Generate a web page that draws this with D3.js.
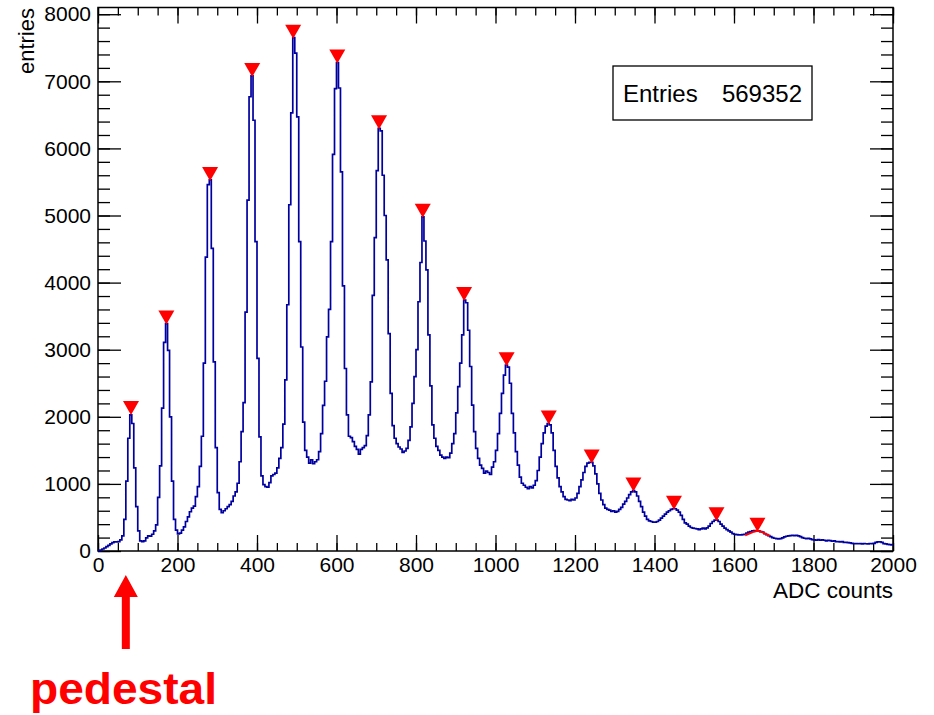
<!DOCTYPE html>
<html>
<head>
<meta charset="utf-8">
<script src="https://cdn.jsdelivr.net/npm/d3@7"></script>
<style>
body { margin: 0; background: #fff; }
text { font-family: "Liberation Sans", Arial, Helvetica, sans-serif; }
</style>
</head>
<body>
<svg id="chart" width="934" height="715"></svg>
<script>
// histogram: 400 bins of 5 ADC counts from 0 to 2000
var xMin = 0, xMax = 2000;
var counts = [
    5, 15, 30, 45, 65, 85, 105, 125, 135, 135,
    140, 165, 225, 470, 1040, 1680, 2030, 1900, 1240, 660,
    300, 150, 140, 150, 195, 225, 220, 250, 300, 390,
    800, 1270, 2130, 3110, 3390, 2990, 2000, 1040, 470, 310,
    255, 265, 310, 360, 440, 510, 585, 640, 670, 810,
    960, 1260, 1710, 2800, 4380, 5460, 5530, 4510, 2820, 1540,
    870, 620, 570, 600, 630, 660, 690, 740, 820, 880,
    1010, 1330, 1780, 2210, 3560, 5230, 6770, 7080, 6420, 4610,
    2870, 1700, 1120, 990, 960, 950, 1020, 1120, 1140, 1160,
    1240, 1380, 1540, 1890, 2550, 3670, 5160, 6530, 7650, 7420,
    6470, 4610, 3040, 1920, 1500, 1400, 1310, 1360, 1300, 1330,
    1360, 1480, 1750, 2170, 2530, 3190, 3600, 4610, 5910, 6890,
    7280, 6900, 5650, 3950, 2720, 2030, 1710, 1690, 1630, 1560,
    1515, 1445, 1515, 1540, 1570, 1720, 2030, 2520, 3810, 4670,
    5670, 6300, 6260, 5600, 5000, 4340, 3240, 2350, 1870, 1680,
    1600, 1550, 1520, 1470, 1490, 1530, 1650, 1850, 2200, 2600,
    3000, 3715, 4300, 4980, 4620, 4190, 3220, 2460, 1880, 1680,
    1560, 1500, 1430, 1400, 1380, 1400, 1390, 1460, 1600, 1750,
    2060, 2450, 2800, 3220, 3740, 3700, 3290, 2750, 2175, 1780,
    1530, 1380, 1280, 1230, 1160, 1190, 1170, 1140, 1250, 1330,
    1500, 1750, 2050, 2350, 2620, 2770, 2740, 2500, 2050, 1760,
    1480, 1280, 1100, 1010, 980, 950, 930, 960, 940, 980,
    1050, 1200, 1400, 1600, 1760, 1860, 1900, 1880, 1760, 1500,
    1260, 1090, 960, 880, 810, 770, 760, 750, 770, 760,
    790, 860, 960, 1060, 1170, 1260, 1310, 1320, 1320, 1270,
    1150, 1000, 860, 760, 690, 640, 620, 610, 590, 600,
    580, 590, 620, 650, 700, 740, 790, 840, 880, 900,
    880, 820, 740, 660, 580, 520, 470, 450, 440, 430,
    430, 440, 460, 490, 520, 550, 580, 600, 620, 630,
    630, 610, 580, 530, 470, 420, 400, 370, 350, 340,
    335, 330, 320, 330, 340, 330, 345, 370, 410, 440,
    460, 460, 440, 400, 370, 340, 320, 300, 280, 260,
    250, 245, 240, 240, 245, 250, 265, 280, 290, 300,
    305, 300, 300, 290, 280, 260, 245, 230, 215, 200,
    190, 185, 180, 185, 195, 210, 220, 225, 230, 235,
    230, 235, 225, 215, 200, 190, 185, 190, 180, 170,
    165, 160, 170, 160, 165, 160, 150, 160, 155, 145,
    150, 140, 140, 135, 140, 130, 130, 125, 120, 115,
    110, 110, 108, 112, 105, 110, 108, 105, 112, 110,
    115, 130, 135, 138, 130, 110, 105, 100, 95, 90
];

// peaks found (red markers)
var peakX = [83, 172, 282, 388, 491, 602, 707, 817, 921, 1028, 1134, 1242, 1347, 1449, 1556, 1659];
var peakY = [2040, 3390, 5530, 7080, 7650, 7280, 6300, 4980, 3740, 2770, 1900, 1320, 900, 630, 460, 300];

// red fit line on the last peak
var fitX = [1628, 1640, 1650, 1659, 1668, 1678, 1690];
var fitY = [235, 262, 288, 300, 288, 260, 225];

var xTicks = [0, 200, 400, 600, 800, 1000, 1200, 1400, 1600, 1800, 2000];
var yTicks = [0, 1000, 2000, 3000, 4000, 5000, 6000, 7000, 8000];
var entries = 569352;
var pedestalX = 70;

function build_hist()
{
    var svg = d3.select("#chart");
    var left = 98, right = 893, top = 7.5, bottom = 551;

    var x = d3.scaleLinear().domain([xMin, xMax]).range([left, right]);
    var y = d3.scaleLinear().domain([0, 8100]).range([bottom, top]);

    var xMinor = d3.range(xMin, xMax + 1, 50);
    var yMinor = d3.range(0, 8001, 200);

    // frame
    svg.append("rect")
        .attr("x", left).attr("y", top)
        .attr("width", right - left).attr("height", bottom - top)
        .attr("fill", "none").attr("stroke", "#000").attr("stroke-width", 1.5);

    function tickStyle(g) {
        g.select(".domain").remove();
        g.selectAll("line").attr("stroke", "#000").attr("stroke-width", 1.3);
        g.attr("font-family", "'Liberation Sans', Arial, sans-serif")
         .attr("font-size", 21);
        g.selectAll("text").attr("fill", "#000");
    }

    // bottom axis
    svg.append("g").attr("transform", "translate(0," + bottom + ")")
        .call(d3.axisBottom(x).tickValues(xMinor).tickSize(-8).tickFormat(""))
        .call(tickStyle);
    svg.append("g").attr("transform", "translate(0," + bottom + ")")
        .call(d3.axisBottom(x).tickValues(xTicks).tickSize(-16).tickPadding(6).tickFormat(d3.format("d")))
        .call(tickStyle);

    // top axis, ticks only
    svg.append("g").attr("transform", "translate(0," + top + ")")
        .call(d3.axisTop(x).tickValues(xMinor).tickSize(-8).tickFormat(""))
        .call(tickStyle);
    svg.append("g").attr("transform", "translate(0," + top + ")")
        .call(d3.axisTop(x).tickValues(xTicks).tickSize(-16).tickFormat(""))
        .call(tickStyle);

    // left axis
    svg.append("g").attr("transform", "translate(" + left + ",0)")
        .call(d3.axisLeft(y).tickValues(yMinor).tickSize(-12).tickFormat(""))
        .call(tickStyle);
    svg.append("g").attr("transform", "translate(" + left + ",0)")
        .call(d3.axisLeft(y).tickValues(yTicks).tickSize(-23).tickPadding(7).tickFormat(d3.format("d")))
        .call(tickStyle);

    // right axis, ticks only
    svg.append("g").attr("transform", "translate(" + right + ",0)")
        .call(d3.axisRight(y).tickValues(yMinor).tickSize(-12).tickFormat(""))
        .call(tickStyle);
    svg.append("g").attr("transform", "translate(" + right + ",0)")
        .call(d3.axisRight(y).tickValues(yTicks).tickSize(-23).tickFormat(""))
        .call(tickStyle);

    // histogram as steps
    var binW = (xMax - xMin) / counts.length;
    var pts = counts.map(function(c, i) { return [xMin + i * binW, c]; });
    pts.push([xMax, counts[counts.length - 1]]);

    var line = d3.line()
        .x(function(d) { return x(d[0]); })
        .y(function(d) { return y(d[1]); })
        .curve(d3.curveStepAfter);

    svg.append("path")
        .attr("d", line(pts))
        .attr("fill", "none")
        .attr("stroke", "#0000a0")
        .attr("stroke-width", 1.7);

    // fit on last peak
    svg.append("path")
        .attr("d", d3.line()
            .x(function(d, i) { return x(fitX[i]); })
            .y(function(d) { return y(d); })(fitY))
        .attr("fill", "none")
        .attr("stroke", "#ff0000")
        .attr("stroke-width", 2);

    // peak markers, tip on the peak
    svg.selectAll(".peak")
        .data(peakX)
        .enter()
        .append("path")
        .attr("class", "peak")
        .attr("d", function(d, i) {
            var px = x(d), py = y(peakY[i]) + 1;
            return "M" + (px - 8) + "," + (py - 14) + "L" + (px + 8) + "," + (py - 14) + "L" + px + "," + py + "Z";
        })
        .attr("fill", "#ff0000");

    // axis titles
    svg.append("text")
        .attr("x", right).attr("y", 598)
        .attr("text-anchor", "end")
        .attr("font-size", 22.5)
        .text("ADC counts");

    svg.append("text")
        .attr("transform", "translate(33.5,8) rotate(-90)")
        .attr("text-anchor", "end")
        .attr("font-size", 22)
        .text("entries");

    // stats box
    svg.append("rect")
        .attr("x", 613).attr("y", 66)
        .attr("width", 199).attr("height", 54)
        .attr("fill", "#fff").attr("stroke", "#000").attr("stroke-width", 1.3);
    svg.append("text")
        .attr("x", 623).attr("y", 102)
        .attr("font-size", 24)
        .text("Entries");
    svg.append("text")
        .attr("x", 802).attr("y", 102)
        .attr("text-anchor", "end")
        .attr("font-size", 24)
        .text(entries);

    // pedestal arrow and label
    var ax = x(pedestalX);
    svg.append("path")
        .attr("d", "M" + ax + ",575L" + (ax + 12) + ",597L" + (ax + 4) + ",597L" + (ax + 4) + ",649L" +
            (ax - 4) + ",649L" + (ax - 4) + ",597L" + (ax - 12) + ",597Z")
        .attr("fill", "#ff0000");

    svg.append("text")
        .attr("x", 30).attr("y", 704)
        .attr("font-family", "'Comic Sans MS', 'DejaVu Sans', sans-serif")
        .attr("font-weight", "bold")
        .attr("font-size", 44)
        .attr("textLength", 187)
        .attr("lengthAdjust", "spacingAndGlyphs")
        .attr("fill", "#ff0000")
        .text("pedestal");
}

build_hist();
</script>
</body>
</html>
